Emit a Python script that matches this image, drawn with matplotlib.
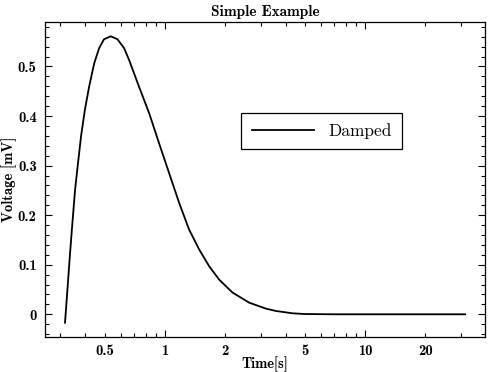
import numpy as np
import matplotlib
matplotlib.use('Agg')
import matplotlib.pyplot as plt
from matplotlib.ticker import LogLocator, FuncFormatter, MultipleLocator

plt.rcParams['axes.unicode_minus'] = False

time_s = [0.316, 0.325, 0.334, 0.344, 0.355, 0.367, 0.380, 0.397, 0.417, 0.442,
          0.468, 0.495, 0.535, 0.578, 0.624, 0.661, 0.741, 0.832, 0.933, 1.047,
          1.175, 1.318, 1.479, 1.66, 1.862, 2.17, 2.63, 3.19, 3.58, 4.33,
          5.0, 7.0, 10.0, 20.0, 31.6]
voltage_mv = [-0.017, 0.050, 0.117, 0.184, 0.252, 0.305, 0.359, 0.412, 0.459, 0.506,
              0.537, 0.555, 0.561, 0.555, 0.537, 0.513, 0.459, 0.406, 0.345, 0.285,
              0.225, 0.171, 0.131, 0.097, 0.070, 0.044, 0.0235, 0.0114, 0.0067, 0.002,
              0.0005, 0.0, 0.0, 0.0, 0.0]
labeled_minor = [0.5, 2, 5, 20]

fig = plt.figure(figsize=(4.88, 3.72), dpi=100)
ax = fig.add_axes([0.0922, 0.094, 0.902, 0.847])

ax.plot(time_s, voltage_mv, color='black', lw=1.3, label='Damped')
ax.set_xscale('log')

bold = dict(family='cmb10', size=10.5)
ax.set_title('Simple Example', fontdict=dict(family='cmb10', size=11), pad=4)
ax.set_xlabel('Time[s]', fontdict=bold, va='center')
ax.set_ylabel('Voltage [mV]', fontdict=bold, va='center')
ax.xaxis.set_label_coords(0.5, -0.085)
ax.yaxis.set_label_coords(-0.082, 0.5)

ax.xaxis.set_major_locator(LogLocator(base=10))
ax.xaxis.set_minor_locator(LogLocator(base=10, subs=np.arange(2, 10)))
ax.xaxis.set_major_formatter(FuncFormatter(lambda v, p: '%g' % v))
ax.xaxis.set_minor_formatter(FuncFormatter(
    lambda v, p: '%g' % v if any(abs(v - m) < 1e-6 * m for m in labeled_minor) else ''))
ax.yaxis.set_major_locator(MultipleLocator(0.1))
ax.yaxis.set_minor_locator(MultipleLocator(0.02))
ax.yaxis.set_major_formatter(FuncFormatter(lambda v, p: '%g' % round(v, 2)))

ax.tick_params(which='both', direction='in', top=True, right=True, width=0.8)
ax.tick_params(which='major', length=5, pad=6)
ax.tick_params(which='minor', length=3, pad=6)
ax.tick_params(axis='x', which='both', pad=5)
for lab in ax.get_xticklabels(which='both') + ax.get_yticklabels():
    lab.set_fontfamily('cmb10')
    lab.set_fontsize(10.5)
for sp in ax.spines.values():
    sp.set_linewidth(0.9)

leg = ax.legend(loc='center', bbox_to_anchor=(0.628, 0.654), fancybox=False,
                edgecolor='black', framealpha=1, handlelength=3.6,
                borderpad=0.6, prop=dict(family='cmr10', size=12.5))
leg.get_frame().set_linewidth(0.9)

fig.savefig('out.png', dpi=100)
